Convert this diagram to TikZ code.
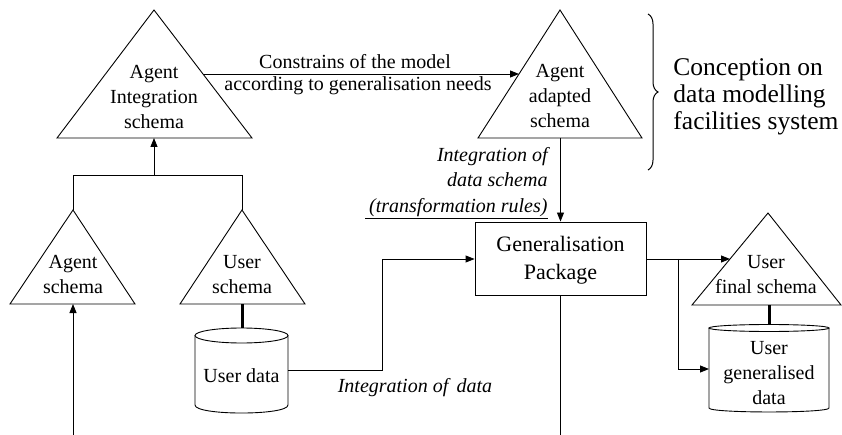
\documentclass[tikz,border=0pt]{standalone}
\usepackage{fontspec}
\setmainfont{Liberation Serif}
\usetikzlibrary{arrows.meta,decorations.pathreplacing}
\begin{document}
\begin{tikzpicture}[x=1pt,y=-1pt,line width=0.9pt,
  >={Triangle[length=9pt,width=7pt]},
  lbl/.style={font=\fontsize{20}{25}\selectfont,align=center,inner sep=0pt},
  boxlbl/.style={font=\fontsize{22}{28}\selectfont,align=center,inner sep=0pt},
  ilbl/.style={font=\fontsize{20}{25}\selectfont\itshape,inner sep=0pt},
  big/.style={font=\fontsize{25.5}{27}\selectfont,align=left,inner sep=0pt},
  thick link/.style={line width=3pt},
  shape line/.style={line width=0.9pt}]
\useasboundingbox (0,0) rectangle (842,435);

% ---- triangles (schemas)
\coordinate (T1a) at (154,10);  \coordinate (T1b) at (154,138);
\draw[shape line] (T1a) -- (252,138) -- (57,138) -- cycle;
\node[lbl] (t1) at (154,97) {Agent\\Integration\\schema};

\coordinate (T2a) at (73,210);  \coordinate (T2b) at (73,304);
\draw[shape line] (T2a) -- (135,304) -- (10,304) -- cycle;
\node[lbl] (t2) at (73,274.5) {Agent\\schema};

\coordinate (T3a) at (242,210);  \coordinate (T3b) at (242,304);
\draw[shape line] (T3a) -- (305,304) -- (180,304) -- cycle;
\node[lbl] (t3) at (242,274.5) {User\\schema};

\coordinate (T4a) at (560,10);  \coordinate (T4b) at (560.5,138);
\draw[shape line] (T4a) -- (642,138) -- (478,138) -- cycle;
\node[lbl] (t4) at (560,96) {Agent\\adapted\\schema};

\coordinate (T5a) at (768,213);  \coordinate (T5b) at (769.5,305);
\draw[shape line] (T5a) -- (841,305) -- (692,305) -- cycle;
\node[lbl] (t5) at (766,274.5) {User\\final schema};

% ---- box
\node[draw,shape line,minimum width=171pt,minimum height=73pt] (gp) at (560.5,258.5) {};
\node[boxlbl] (gpt) at (560.5,260) {Generalisation\\Package};

% ---- cylinders
\draw[shape line] (195,335.5) -- (195,405) .. controls (195,415.7) and (288,415.7) .. (288,405) -- (288,335.5);
\draw[shape line] (241.5,335.5) ellipse [x radius=46.5,y radius=7.5];
\coordinate (C1t) at (242,328);
\node[lbl] (ud) at (241.5,376) {User data};

\draw[shape line] (709,328) -- (709,408) .. controls (709,413.3) and (829,413.3) .. (829,408) -- (829,328);
\draw[shape line] (769,328) ellipse [x radius=60,y radius=3.5];
\coordinate (C2t) at (769.5,324.5);
\node[lbl] (ugd) at (769,373) {User\\generalised\\data};

% ---- connectors
\coordinate (j1) at (73,175);
\coordinate (j2) at (242,175);
\coordinate (j3) at (154,175);
\draw (T2a) -- (j1) -- (j2) -- (T3a);
\draw[->] (j3) -- (T1b);

\coordinate (bot1) at (73,435);
\draw[->] (bot1) -- (T2b);

\coordinate (c1s) at (202.75,74);
\coordinate (c1e) at (519,74);
\draw[->] (c1s) -- (c1e);
\node[lbl] (cl1) at (355,62) {Constrains of the model};
\node[lbl] (cl2) at (358,86) {according to generalisation needs};

\draw[->] (T4b) -- (gp.north);
\node[ilbl,anchor=base east] (il1) at (548,162) {Integration of};
\node[ilbl,anchor=base east] (il2) at (548,187) {data schema};
\node[ilbl,anchor=base east] (il3) at (548,213) {(transformation rules)};
\coordinate (ul1) at (365,219);
\coordinate (ul2) at (548,219);
\draw[line width=1pt] (ul1) -- (ul2);

\draw[thick link] (T3b) -- (C1t);
\draw[thick link] (T5b) -- (C2t);

\coordinate (ude) at (288,370);
\coordinate (k1) at (382,370);
\coordinate (k2) at (382,259);
\draw[->] (ude) -- (k1) -- (k2) -- (gp.west |- k2);
\node[ilbl] (idl) at (415,388) {Integration of\, data};

\coordinate (bot2) at (560.5,435);
\draw (gp.south) -- (bot2);

\coordinate (r1) at (678,259);
\coordinate (r2) at (730,259);
\coordinate (r3) at (678,369);
\coordinate (r4) at (709,369);
\draw[->] (gp.east |- r1) -- (r2);
\draw[->] (r1) -- (r3) -- (r4);

% ---- brace
\coordinate (b1) at (648,14);
\coordinate (b2) at (648,170);
\draw[decorate,decoration={brace,amplitude=10pt},line width=1pt] (b1) -- (b2);
\node[big,anchor=west] (cd) at (673,97) {Conception on\\data modelling\\facilities system};
\end{tikzpicture}
\end{document}
